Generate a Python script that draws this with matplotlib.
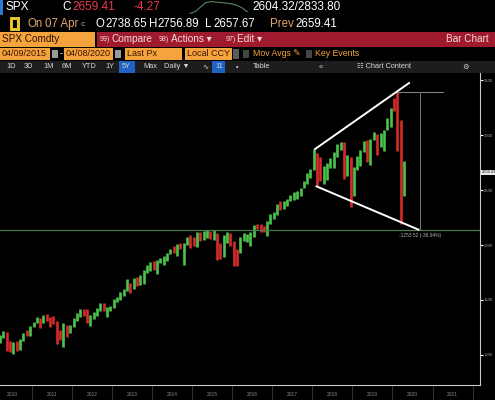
import numpy as np
import pandas as pd
import matplotlib
matplotlib.use("Agg")
from matplotlib import pyplot as plt
from matplotlib.patches import Rectangle

plt.rcParams['font.family'] = ['Liberation Sans', 'DejaVu Sans']

W, H = 495, 400

# monthly SPX bars, Mar 2010 .. Apr 2020
months = pd.date_range("2010-03-01", "2020-04-01", freq="MS")

high = [1180, 1220, 1206, 1131, 1120, 1129, 1148, 1196, 1227, 1262,
        1303, 1344, 1332, 1367, 1371, 1347, 1357, 1307, 1230, 1293, 1277, 1269,
        1333, 1378, 1419, 1422, 1416, 1363, 1392, 1426, 1475, 1471, 1434, 1448,
        1509, 1530, 1570, 1598, 1687, 1654, 1698, 1710, 1730, 1775, 1814, 1849,
        1850, 1867, 1884, 1897, 1924, 1968, 1991, 2005, 2019, 2018, 2075, 2093,
        2072, 2120, 2118, 2126, 2135, 2130, 2133, 2113, 2021, 2094, 2117, 2105,
        2038, 1963, 2073, 2112, 2100, 2120, 2178, 2194, 2188, 2169, 2214, 2278,
        2301, 2371, 2401, 2398, 2418, 2454, 2484, 2491, 2520, 2582, 2657, 2695,
        2873, 2835, 2801, 2718, 2742, 2791, 2848, 2917, 2941, 2940, 2815, 2800,
        2708, 2813, 2861, 2949, 2954, 2964, 3028, 3013, 3022, 3050, 3154, 3248,
        3338, 3394, 3136, 2760]
low = [1105, 1157, 1040, 1028, 1010, 1040, 1049, 1131, 1173, 1173,
       1257, 1289, 1249, 1295, 1311, 1258, 1282, 1101, 1136, 1075, 1159, 1202,
       1258, 1310, 1341, 1358, 1292, 1267, 1325, 1354, 1397, 1403, 1343, 1398,
       1426, 1485, 1501, 1536, 1582, 1560, 1604, 1627, 1633, 1646, 1746, 1767,
       1770, 1737, 1834, 1814, 1859, 1915, 1930, 1904, 1964, 1821, 2001, 1972,
       1988, 1981, 2040, 2048, 2068, 2057, 2044, 1867, 1872, 1894, 2019, 1993,
       1812, 1810, 1931, 2033, 2025, 1992, 2075, 2147, 2120, 2115, 2084, 2187,
       2234, 2272, 2322, 2329, 2352, 2403, 2407, 2418, 2446, 2520, 2557, 2605,
       2683, 2533, 2586, 2553, 2594, 2699, 2698, 2796, 2864, 2604, 2631, 2347,
       2444, 2681, 2722, 2848, 2751, 2729, 2952, 2822, 2892, 2855, 3050, 3070,
       3214, 2855, 2192, 2447]
close = [1169, 1187, 1089, 1031, 1102, 1049, 1141, 1183, 1181, 1258,
         1286, 1327, 1326, 1364, 1345, 1321, 1292, 1219, 1131, 1253, 1247, 1258,
         1312, 1366, 1408, 1398, 1310, 1362, 1379, 1407, 1441, 1412, 1416, 1426,
         1498, 1515, 1569, 1598, 1631, 1606, 1686, 1633, 1682, 1757, 1806, 1848,
         1783, 1859, 1872, 1884, 1924, 1960, 1931, 2003, 1972, 2018, 2068, 2059,
         1995, 2105, 2068, 2086, 2107, 2063, 2104, 1972, 1920, 2079, 2080, 2044,
         1940, 1932, 2060, 2065, 2097, 2099, 2174, 2171, 2168, 2126, 2199, 2239,
         2279, 2364, 2363, 2384, 2412, 2423, 2470, 2472, 2519, 2575, 2648, 2674,
         2824, 2714, 2641, 2648, 2705, 2718, 2816, 2902, 2914, 2712, 2760, 2507,
         2704, 2784, 2834, 2946, 2752, 2942, 2980, 2926, 2977, 3038, 3141, 3231,
         3226, 2954, 2585, 2659]
first_open = 1115

# header values
last_px = 2659.41
net_chg = -4.27
day_open, day_high, day_low, prev_close = 2738.65, 2756.89, 2657.67, 2659.41
range_lo, range_hi = 2604.32, 2833.80
spark = [2705, 2712, 2730, 2748, 2753, 2751, 2749, 2747, 2744, 2738, 2728, 2712]

# annotations drawn on the chart
upper_dates = pd.to_datetime(["2018-01-26", "2020-06-01"])
upper_vals = [2873, 3473]
lower_dates = pd.to_datetime(["2018-02-08", "2020-08-25"])
lower_vals = [2533, 2140]
peak_date, peak_val = pd.Timestamp("2020-02-19"), 3393.52
support_val = 2140
measure_x = pd.Timestamp("2020-09-12")
measure_end = pd.Timestamp("2021-04-10")

fig = plt.figure(figsize=(W / 100, H / 100), dpi=100, facecolor='black')


def box(x, y, w, h, color):
    fig.add_artist(Rectangle((x / W, 1 - (y + h) / H), w / W, h / H,
                             transform=fig.transFigure, color=color, lw=0))


def txt(x, y, s, color='white', size=7, ha='left', **kw):
    fig.text(x / W, 1 - y / H, s, color=color, fontsize=size, ha=ha,
             va='center', **kw)


tan = '#e2a56c'
orange = '#f5a33c'

# row 1
box(0, 0, 3, 15, '#2c7bd0')
txt(6, 7.5, "SPX", size=8.5)
txt(62, 7.5, "C", size=8.5)
txt(72, 7.5, f"{last_px:.2f}", color='#e8384a', size=8.5)
txt(133, 7.5, f"{net_chg:.2f}", color='#e8384a', size=8.5)
txt(252, 7.5, f"{range_lo:.2f}/{range_hi:.2f}", size=8.5)
sax = fig.add_axes([187 / W, 1 - 14 / H, 63 / W, 13 / H])
sax.plot(range(len(spark)), spark, color='#5f9a6a', lw=0.7)
sax.axis('off')

# row 2
box(10, 17, 10, 14, '#e8c22a')
box(13, 20, 4, 8, 'black')
txt(27, 24, "On", color=tan, size=8.3)
txt(45, 24, "07 Apr", color=tan, size=8.3)
txt(81, 25, "c", color=tan, size=6)
txt(96, 24, "O", size=8.3)
txt(105, 24, f"{day_open:.2f}", size=8.3)
txt(149, 24, "H", size=8.3)
txt(157, 24, f"{day_high:.2f}", size=8.3)
txt(205, 24, "L", size=8.3)
txt(213, 24, f"{day_low:.2f}", size=8.3)
txt(270, 24, "Prev", color=tan, size=8.3)
txt(295, 24, f"{prev_close:.2f}", size=8.3)

# row 3
box(0, 32, 95, 15, orange)
txt(2, 39.5, "SPX Comdty", color='#2a1200', size=7.2)
box(97, 32, 398, 15, '#9e1a2c')
menu_c = '#f3dadd'
txt(100, 39.5, "99)", color=menu_c, size=5)
txt(112, 39.5, "Compare", color=menu_c, size=7.2)
txt(159, 39.5, "98)", color=menu_c, size=5)
txt(171, 39.5, "Actions \u25be", color=menu_c, size=7.2)
txt(226, 39.5, "97)", color=menu_c, size=5)
txt(237, 39.5, "Edit \u25be", color=menu_c, size=7.2)
txt(489, 39.5, "Bar Chart", color=menu_c, size=7.2, ha='right')

# row 4
for x0, w0, label in [(0, 50, "04/09/2015"), (64, 49, "04/08/2020"),
                      (125, 57, "Last Px"), (185, 47, "Local CCY")]:
    box(x0, 48, w0, 12, orange)
    txt(x0 + 2, 54, label, color='#3a1500', size=6.5)
box(52, 50, 6, 8, '#9a9a9a')
box(115, 50, 6, 8, '#9a9a9a')
txt(59.5, 54, "-", size=6.5)
box(233, 49, 6, 10, '#5a5a5a')
box(243, 50, 6, 8, '#444444')
txt(253, 54, "Mov Avgs \u270e", color=orange, size=6.3)
box(306, 50, 6, 8, '#444444')
txt(315, 54, "Key Events", color=orange, size=6.3)

# row 5
box(0, 61, W, 12, '#1d1d1d')
box(119, 61, 16, 12, '#1f62c4')
box(212, 61, 13, 12, '#1f62c4')
tb = '#d6d6d6'
for x0, label in [(6, "1D"), (24, "3D"), (43, "1M"), (62, "6M"), (82, "YTD"),
                  (105, "1Y"), (122, "5Y"), (143, "Max"), (164, "Daily \u25bc"),
                  (202, "\u223f"), (215, "11"), (236, "\u2022"), (253, "Table"),
                  (319, "\u00ab"), (357, "\u2637 Chart Content"), (462, "\u2699")]:
    txt(x0, 67, label, color=tb, size=5.3)

# chart
ax = fig.add_axes([0, 15 / H, 480 / W, (385 - 73) / H])
ax.set_facecolor('black')

x = months + pd.Timedelta(days=14)
opens = [first_open] + close[:-1]
cols = ['#4cc44c' if c >= o else '#d62b2b' for o, c in zip(opens, close)]
ax.vlines(x, low, high, colors=cols, lw=1.9)

ax.axhline(support_val, color='#4d7a4d', lw=0.9)
ax.plot(upper_dates, upper_vals, color='white', lw=1.4)
ax.plot(lower_dates, lower_vals, color='white', lw=1.4)
ax.plot([peak_date, measure_end], [peak_val, peak_val], color='#8a8a8a', lw=0.7)
ax.plot([measure_x, measure_x], [peak_val, support_val], color='#777777', lw=0.7)
chg = support_val - peak_val
ax.text(measure_x, support_val - 30, f"{chg:.2f} ({chg / peak_val * 100:.2f}%)",
        color='#b0b0b0', fontsize=3.5, ha='center', va='top')

ax.set_xlim(pd.Timestamp("2010-03-15"), pd.Timestamp("2022-03-10"))
ax.set_ylim(727, 3564)

for s in ['left', 'top']:
    ax.spines[s].set_visible(False)
ax.spines['right'].set_color('#c8c8c8')
ax.spines['bottom'].set_color('#c8c8c8')
ax.spines['right'].set_linewidth(0.8)
ax.spines['bottom'].set_linewidth(0.8)

ax.yaxis.tick_right()
ax.set_yticks([1000, 1500, 2000, 2500, 3000, 3500])
ax.set_yticklabels(["1000", "1500", "2000", "2500", "3000", "3500"])
ax.tick_params(axis='y', colors='white', labelcolor='#a0a0a0', labelsize=3.1,
               length=2, width=0.8, pad=0.8)

years = pd.date_range("2011-01-01", "2022-01-01", freq="YS")
mids = pd.date_range("2010-07-01", "2021-07-01", freq="12MS")
ax.set_xticks(years)
ax.set_xticklabels([])
ax.set_xticks(mids, minor=True)
ax.set_xticklabels([str(d.year) for d in mids], minor=True)
ax.tick_params(axis='x', which='major', length=11, color='#3a3a3a', width=0.6)
ax.tick_params(axis='x', which='minor', length=0, labelsize=3.5,
               labelcolor='#8a8a8a', pad=5)

ax.annotate(f"{last_px:.2f}", xy=(1, last_px), xycoords=('axes fraction', 'data'),
            xytext=(1.2, 0), textcoords='offset points', fontsize=2.9,
            color='#202020', va='center', ha='left', annotation_clip=False,
            bbox=dict(boxstyle='square,pad=0.15', fc='#e8e8e8', ec='none'))

fig.savefig("out.png", dpi=100, facecolor='black')
